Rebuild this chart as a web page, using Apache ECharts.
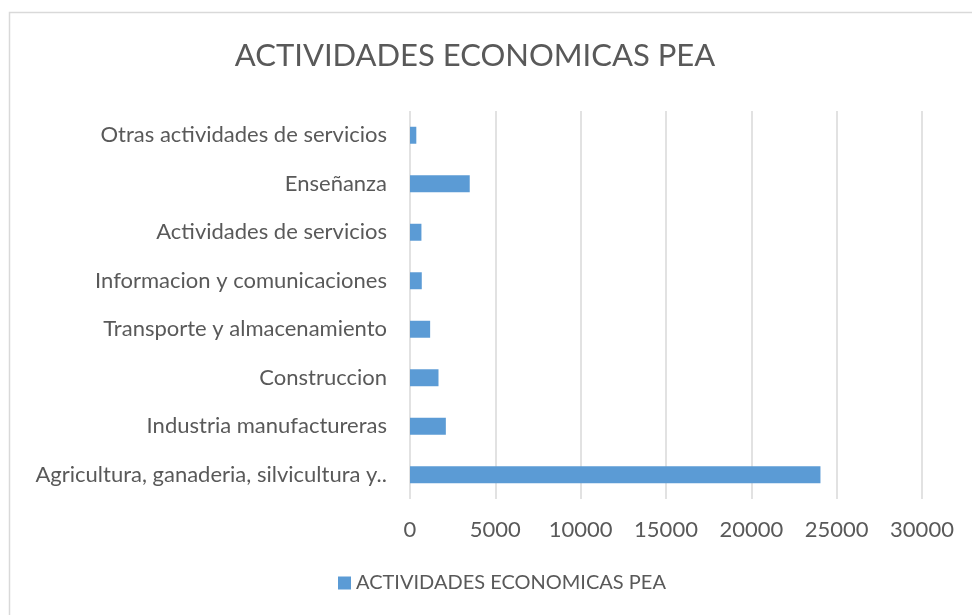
<!DOCTYPE html>
<html>
<head>
<meta charset="utf-8">
<script src="https://cdn.jsdelivr.net/npm/echarts@6/dist/echarts.min.js"></script>
<style>
  html, body { margin: 0; padding: 0; background: #fff; }
  #chartID { width: 972px; height: 615px; }
</style>
</head>
<body>
<div id="chartID"></div>
<script>
var categories = [
    'Agricultura, ganaderia, silvicultura y..',
    'Industria manufactureras',
    'Construccion',
    'Transporte y almacenamiento',
    'Informacion y comunicaciones',
    'Actividades de servicios',
    'Enseñanza',
    'Otras actividades de servicios'
];
var peaValues = [24050, 2100, 1670, 1180, 690, 670, 3500, 370];
var xTicks = { min: 0, max: 30000, interval: 5000 };

var chart = echarts.init(document.getElementById('chartID'));

var option = {
    animation: false,
    textStyle: { fontFamily: 'Lato' },
    graphic: [{
        type: 'rect',
        shape: { x: 9.5, y: 12.5, width: 980, height: 620 },
        style: { fill: 'none', stroke: '#d9d9d9', lineWidth: 1.5 }
    }],
    title: {
        text: 'ACTIVIDADES ECONOMICAS PEA',
        left: 470,
        top: 35,
        textAlign: 'center',
        textStyle: { fontSize: 31, fontWeight: 'normal', color: '#595959', fontFamily: 'Lato' }
    },
    legend: {
        top: 568,
        left: 333,
        itemWidth: 13,
        itemHeight: 13,
        icon: 'rect',
        itemGap: 8,
        textStyle: { fontSize: 20, color: '#595959', fontFamily: 'Lato' }
    },
    grid: { left: 410, right: 50, top: 111, bottom: 116 },
    xAxis: {
        type: 'value',
        min: xTicks.min,
        max: xTicks.max,
        interval: xTicks.interval,
        axisLine: { show: false },
        axisTick: { show: false },
        axisLabel: {
            fontSize: 22,
            color: '#595959',
            margin: 20,
            formatter: function (v) { return String(v); }
        },
        splitLine: { lineStyle: { color: '#d9d9d9', width: 1.5 } }
    },
    yAxis: {
        type: 'category',
        data: categories,
        axisLine: { show: false },
        axisTick: { show: false },
        axisLabel: { fontSize: 22, color: '#595959', margin: 23 }
    },
    series: [{
        name: 'ACTIVIDADES ECONOMICAS PEA',
        type: 'bar',
        data: peaValues,
        barCategoryGap: '65%',
        itemStyle: { color: '#5b9bd5' }
    }]
};

chart.setOption(option);
</script>
</body>
</html>
